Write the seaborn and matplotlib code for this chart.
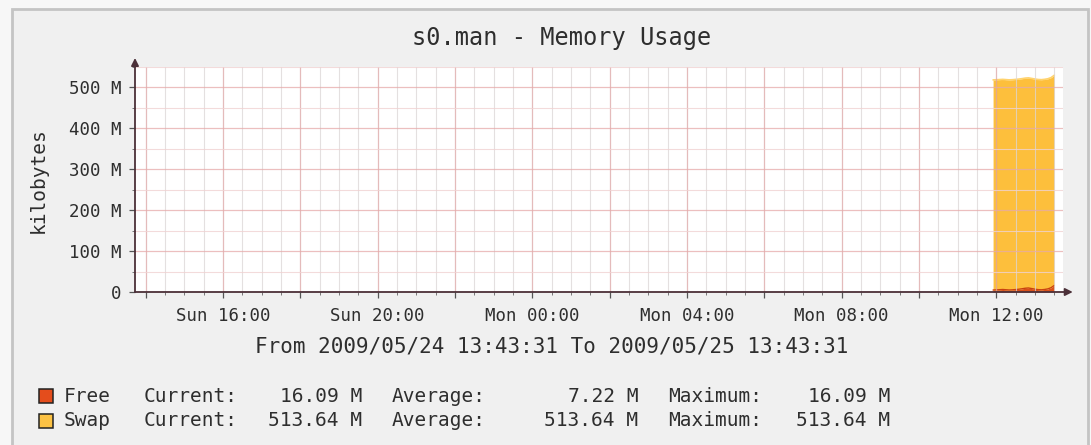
import matplotlib
matplotlib.use("Agg")
import matplotlib.pyplot as plt
import matplotlib.dates as mdates
from matplotlib.patches import Rectangle
from matplotlib.ticker import FuncFormatter, MultipleLocator
import pandas as pd
import seaborn as sns

# --- data (values in M) ---
start_time = "2009-05-24 13:43:31"
end_time = "2009-05-25 13:43:31"
sample_times = [
    "2009-05-25 11:55", "2009-05-25 12:00", "2009-05-25 12:05", "2009-05-25 12:10",
    "2009-05-25 12:15", "2009-05-25 12:20", "2009-05-25 12:25", "2009-05-25 12:30",
    "2009-05-25 12:35", "2009-05-25 12:40", "2009-05-25 12:45", "2009-05-25 12:50",
    "2009-05-25 12:55", "2009-05-25 13:00", "2009-05-25 13:05", "2009-05-25 13:10",
    "2009-05-25 13:15", "2009-05-25 13:20", "2009-05-25 13:25", "2009-05-25 13:30",
]
free_m = [4.8, 5.2, 5.6, 6.1, 5.5, 4.9, 5.3, 6.0, 6.8, 7.9, 9.2, 9.8, 8.4, 6.9, 5.8, 5.4, 6.2, 7.6, 10.5, 16.09]
swap_m = [513.64, 513.64, 513.64, 513.64, 513.64, 513.64, 513.64, 513.64, 513.64, 513.64,
          513.64, 513.64, 513.64, 513.64, 513.64, 513.64, 513.64, 513.64, 513.64, 513.64]

legend_names = ["Free", "Swap"]
legend_current = ["16.09 M", "513.64 M"]
legend_average = ["7.22 M", "513.64 M"]
legend_maximum = ["16.09 M", "513.64 M"]
legend_colors = ["#e44d1c", "#fcc244"]

title = "s0.man - Memory Usage"
y_label = "kilobytes"
range_text = "From 2009/05/24 13:43:31 To 2009/05/25 13:43:31"

df = pd.DataFrame({"time": pd.to_datetime(sample_times), "free": free_m, "swap": swap_m})
df["stack"] = df["free"] + df["swap"]

# --- style ---
sns.set_theme(style="white")
plt.rcParams["font.family"] = ["DejaVu Sans Mono"]
text_col = "#2e2e2e"

W, H = 1091, 445
fig = plt.figure(figsize=(W / 100, H / 100), dpi=100, facecolor="#f7f7f7")
fig.patches.append(Rectangle((12 / W, -0.05), (1088 - 12) / W, 1.05 - 9 / H,
                             transform=fig.transFigure, facecolor="#f0f0f0",
                             edgecolor="#c4c4c4", lw=2, zorder=-5))


def px(x, y):
    return x / W, 1 - y / H


ax = fig.add_axes([135 / W, 1 - 292 / H, (1063 - 135) / W, (292 - 67) / H])
ax.set_zorder(2)
ax.set_facecolor("white")

# stacked areas
ax.fill_between(df["time"], 0, df["free"], color="#d9501a", lw=0, zorder=1)
ax.fill_between(df["time"], df["free"], df["stack"], color="#fdbf3c", lw=0, zorder=1)
sns.lineplot(data=df, x="time", y="stack", ax=ax, color="#ffd36e", lw=1.2, zorder=1.2)
sns.lineplot(data=df, x="time", y="free", ax=ax, color="#c8420f", lw=1.0, zorder=1.2)

ax.set_xlim(pd.Timestamp(start_time), pd.Timestamp(end_time))
ax.set_ylim(0, 550)

# grid like rrdtool (drawn above the areas)
ax.set_axisbelow(False)
ax.yaxis.set_major_locator(MultipleLocator(100))
ax.yaxis.set_minor_locator(MultipleLocator(50))
ax.yaxis.set_major_formatter(FuncFormatter(lambda v, p: "0" if v == 0 else f"{int(v)} M"))
ax.xaxis.set_major_locator(mdates.HourLocator(byhour=range(0, 24, 2)))
ax.xaxis.set_minor_locator(mdates.MinuteLocator(byminute=[0, 30]))
ax.xaxis.set_major_formatter(FuncFormatter(
    lambda v, p: mdates.num2date(v).strftime("%a %H:%M") if mdates.num2date(v).hour % 4 == 0 else ""))

ax.grid(which="major", axis="y", color="#e6aaaa", lw=0.9, alpha=0.75)
ax.grid(which="minor", axis="y", color="#f0d2d2", lw=0.8, alpha=0.8)
ax.grid(which="major", axis="x", color="#dca4a4", lw=0.9, alpha=0.75)
ax.grid(which="minor", axis="x", color="#dcd6d6", lw=0.8, alpha=0.75)

ax.tick_params(axis="both", which="major", direction="out", length=4, width=0.9,
               color="#555555", labelsize=12.5, labelcolor=text_col, pad=6)
ax.tick_params(axis="both", which="minor", direction="out", length=2, width=0.7, color="#777777")
ax.tick_params(axis="x", which="major", pad=7)
ax.tick_params(left=True, bottom=True, which="both")
ax.set_xlabel("")
ax.set_ylabel("")
for s in ax.spines.values():
    s.set_visible(False)

# axes with arrow heads
ax.annotate("", xy=(0, 1.04), xytext=(0, 0), xycoords="axes fraction",
            arrowprops=dict(arrowstyle="-|>", color="#4b3038", lw=1.3,
                            mutation_scale=11, shrinkA=0, shrinkB=0), annotation_clip=False)
ax.annotate("", xy=(1.0105, 0), xytext=(0, 0), xycoords="axes fraction",
            arrowprops=dict(arrowstyle="-|>", color="#4b3038", lw=1.3,
                            mutation_scale=11, shrinkA=0, shrinkB=0), annotation_clip=False)

# texts
fig.text(*px(562, 38), title, ha="center", va="center", fontsize=17, color=text_col)
fig.text(*px(38, 180), y_label, ha="center", va="center", rotation=90, fontsize=14, color=text_col)
fig.text(*px(552, 346), range_text, ha="center", va="center", fontsize=15, color=text_col)

row_y = [396, 421]
for i in range(2):
    y = row_y[i]
    fig.patches.append(Rectangle(px(39, y + 7), 14 / W, 14 / H, transform=fig.transFigure,
                                 facecolor=legend_colors[i], edgecolor="#222222", lw=1.1))
    fig.text(*px(64, y), legend_names[i], ha="left", va="center", fontsize=14, color=text_col)
    fig.text(*px(144, y), "Current:", ha="left", va="center", fontsize=14, color=text_col)
    fig.text(*px(362, y), legend_current[i], ha="right", va="center", fontsize=14, color=text_col)
    fig.text(*px(392, y), "Average:", ha="left", va="center", fontsize=14, color=text_col)
    fig.text(*px(638, y), legend_average[i], ha="right", va="center", fontsize=14, color=text_col)
    fig.text(*px(668, y), "Maximum:", ha="left", va="center", fontsize=14, color=text_col)
    fig.text(*px(890, y), legend_maximum[i], ha="right", va="center", fontsize=14, color=text_col)

fig.savefig("out.png", dpi=100, facecolor=fig.get_facecolor())
